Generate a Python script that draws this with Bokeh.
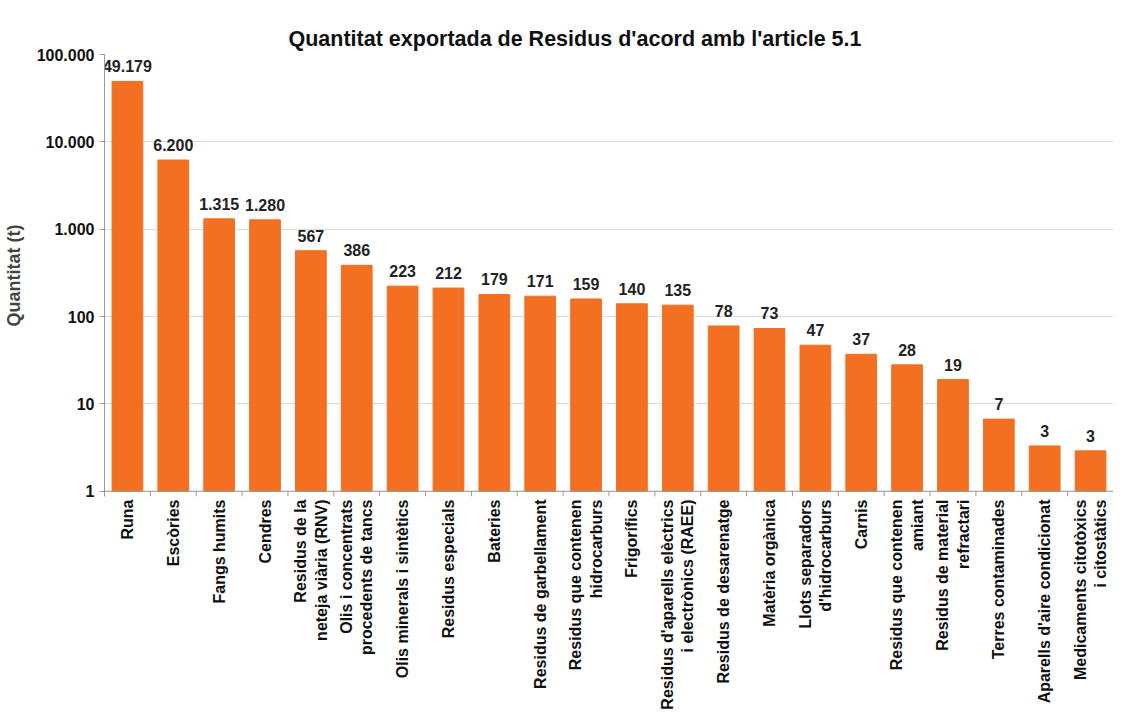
from bokeh.plotting import figure
from bokeh.models import ColumnDataSource, FixedTicker, Range1d, Span, Title
from bokeh.embed import file_html
from bokeh.resources import INLINE
from bokeh.core.properties import value
import math

categories = [
    "Runa", "Escòries", "Fangs humits", "Cendres",
    "Residus de la\nneteja viària (RNV)",
    "Olis i concentrats\nprocedents de tancs",
    "Olis minerals i sintètics", "Residus especials", "Bateries",
    "Residus de garbellament", "Residus que contenen\nhidrocarburs",
    "Frigorífics", "Residus d'aparells elèctrics\ni electrònics (RAEE)",
    "Residus de desarenatge", "Matèria orgànica",
    "Llots separadors\nd'hidrocarburs", "Carnis",
    "Residus que contenen\namiant", "Residus de material\nrefractari",
    "Terres contaminades", "Aparells d'aire condicionat",
    "Medicaments citotòxics\ni citostàtics",
]
values = [49179, 6200, 1315, 1280, 567, 386, 223, 212, 179, 171, 159,
          140, 135, 78, 73, 47, 37, 28, 19, 6.7, 3.3, 2.9]
y_ticks = [1, 10, 100, 1000, 10000, 100000]
y_tick_labels = ["1", "10", "100", "1.000", "10.000", "100.000"]
title_text = "Quantitat exportada de Residus d'acord amb l'article 5.1"


def fmt(v):
    return f"{int(round(v)):,}".replace(",", ".")


labels = [fmt(v) for v in values]
src = ColumnDataSource(dict(cat=categories, val=values, lab=labels,
                            bottom=[1] * len(values)))

y_low = 10 ** -0.06  # a little room below the base line for the slot ticks

p = figure(width=1113, height=712, x_range=categories,
           y_axis_type="log", y_range=Range1d(y_low, 100000),
           output_backend="svg", toolbar_location=None,
           min_border_left=0, min_border_right=0, min_border_top=0,
           min_border_bottom=0)

# outermost (blank) title just reserves space at the top
p.title = Title(text=" ", text_font_size="17px", standoff=0)
# real title, closest to the frame
p.add_layout(Title(text=title_text, align="left", offset=184,
                   text_font="Liberation Sans", text_font_size="21.5px",
                   text_font_style="bold", text_color="#111111",
                   standoff=7), "above")

p.vbar(x="cat", top="val", bottom="bottom", width=0.67, source=src,
       fill_color="#F36F21", line_color="#F36F21")
p.text(x="cat", y="val", text="lab", source=src, text_align="center",
       text_baseline="bottom", y_offset=-9, text_font=value("Liberation Sans"),
       text_font_style="bold", text_font_size="16px", text_color="#222222")

# base line and tick marks between categories (Excel style)
p.add_layout(Span(location=1, dimension="width", line_color="#999999",
                  line_width=1))
bounds = [[c, -0.5] for c in categories] + [[categories[-1], 0.5]]
p.segment(x0=bounds, x1=bounds, y0=[1] * len(bounds),
          y1=[y_low] * len(bounds), line_color="#999999", line_width=1)

p.yaxis.ticker = FixedTicker(ticks=y_ticks)
p.yaxis.major_label_overrides = {t: l for t, l in zip(y_ticks, y_tick_labels)}
p.yaxis.axis_label = "Quantitat (t)"
p.yaxis.axis_label_text_font = "Liberation Sans"
p.yaxis.axis_label_text_font_style = "bold"
p.yaxis.axis_label_text_font_size = "18px"
p.yaxis.axis_label_standoff = 10
p.yaxis.major_label_text_font = "Liberation Sans"
p.yaxis.major_label_text_font_style = "bold"
p.yaxis.major_label_text_font_size = "16px"
p.yaxis.major_label_text_color = "#111111"
p.yaxis.minor_tick_line_color = None
p.yaxis.major_tick_in = 0
p.yaxis.major_tick_out = 5
p.yaxis.axis_line_color = "#999999"
p.yaxis.major_tick_line_color = "#999999"

p.xaxis.major_label_orientation = math.pi / 2
p.xaxis.major_label_text_font = "Liberation Sans"
p.xaxis.major_label_text_font_style = "bold"
p.xaxis.major_label_text_font_size = "16px"
p.xaxis.major_label_text_color = "#111111"
p.xaxis.major_label_standoff = 3
p.xaxis.major_tick_line_color = None
p.xaxis.major_tick_out = 0
p.xaxis.axis_line_color = None

p.xgrid.grid_line_color = None
p.ygrid.grid_line_color = "#D9D9D9"
p.outline_line_color = None
p.x_range.range_padding = 0.0

open("out.html", "w").write(file_html(p, INLINE))
